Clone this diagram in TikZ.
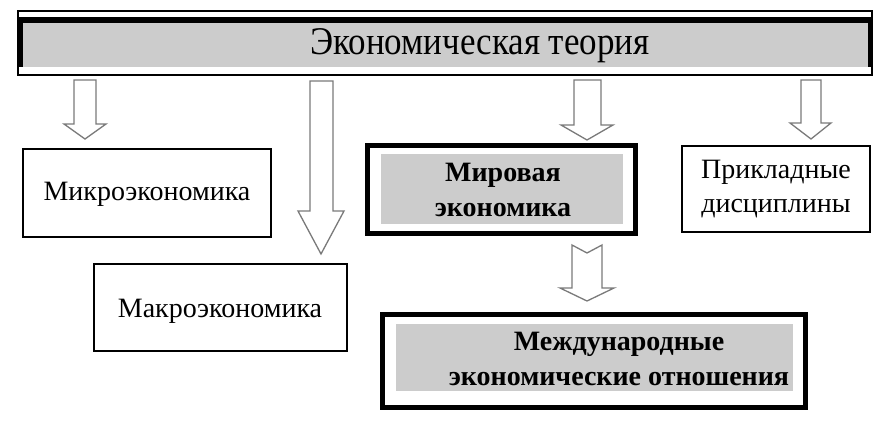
\documentclass[tikz,border=0pt]{standalone}
\usepackage{fontspec}
\setmainfont{Liberation Serif}
\newfontfamily\tnr{Liberation Serif}
\definecolor{boxgray}{HTML}{CCCCCC}
\definecolor{arrowgray}{HTML}{7A7A7A}
\tikzset{
  plainbox/.style={draw=black,line width=1.6pt},
  thickbox/.style={draw=black,line width=5pt},
  blockarrow/.style={draw=arrowgray,fill=white,line width=1.3pt,line join=miter},
  lbl/.style={align=center,inner sep=0pt,text=black},
  regtext/.style={font=\tnr\fontsize{28}{34}\selectfont},
  boldtext/.style={font=\tnr\bfseries\fontsize{28}{35}\selectfont},
}
\begin{document}
\begin{tikzpicture}[x=1pt,y=-1pt]
\useasboundingbox (0,0) rectangle (887,422);
% top box
\draw[line width=2pt] (18,11) rectangle (872,75);
\fill[black] (17,17) rectangle (873,67);
\fill[boxgray] (23,23) rectangle (868,67);
\node[lbl,font=\tnr\fontsize{35}{40}\selectfont] (theory) at (480,46) {\scalebox{1}[1.12]{Экономическая теория}};
% arrows
\draw[blockarrow] (74,80) -- (96,80) -- (96,124) -- (106,124) -- (85,139) -- (64,124) -- (74,124) -- cycle;
\draw[blockarrow] (310,81) -- (333,81) -- (333,211) -- (344,211) -- (321,254) -- (298,211) -- (310,211) -- cycle;
\draw[blockarrow] (574,80) -- (601,80) -- (601,125) -- (613,125) -- (587,140) -- (561,125) -- (574,125) -- cycle;
\draw[blockarrow] (801,80) -- (821,80) -- (821,123) -- (831,123) -- (811,139) -- (790,123) -- (801,123) -- cycle;
\draw[blockarrow] (572,245) -- (587,253) -- (602,245) -- (602,288) -- (614,288) -- (587,301) -- (560,288) -- (572,288) -- cycle;
% micro
\draw[plainbox] (23,149) rectangle (271,237);
\node[lbl,regtext] (micro) at (147,194) {Микроэкономика};
% macro
\draw[plainbox] (94,264) rectangle (347,351);
\node[lbl,regtext] (macro) at (220,311) {Макроэкономика};
% world economy
\draw[thickbox] (367.5,145.5) rectangle (635.5,233.5);
\fill[boxgray] (381,154) rectangle (623,224);
\node[lbl,boldtext] (world) at (503,190) {Мировая\\экономика};
% applied
\draw[plainbox] (682,146) rectangle (870,232);
\node[lbl,regtext] (applied) at (776,189) {Прикладные\\дисциплины};
% international
\draw[thickbox] (382.5,314.5) rectangle (805.5,407.5);
\fill[boxgray] (396,324) rectangle (793,391);
\node[lbl,boldtext] (intl) at (619,359) {Международные\\экономические отношения};
\end{tikzpicture}
\end{document}
